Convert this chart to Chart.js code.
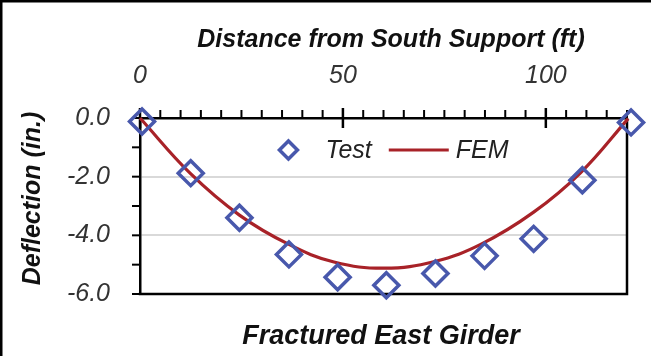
<!DOCTYPE html>
<html><head><meta charset="utf-8">
<script src="https://cdn.jsdelivr.net/npm/chart.js@4.4.1/dist/chart.umd.min.js"></script>
<style>
html,body{margin:0;padding:0;background:#fff;overflow:hidden}
#wrap{position:relative;width:651px;height:356px}
</style></head><body>
<div id="wrap"><canvas id="c" width="651" height="356"></canvas></div>
<script>
// ---- data ----
const distanceFt     = [0.5, 12.5, 24.5, 36.7, 48.7, 60.7, 72.8, 84.9, 97.0, 109.0, 121.0];
const testDeflection = [-0.12, -1.88, -3.40, -4.65, -5.43, -5.70, -5.30, -4.70, -4.12, -2.12, -0.15];
const femDistanceFt  = [0, 12.4, 24.5, 36.7, 47.8, 60.2, 72.6, 84.2, 97.0, 108.6, 120.3];
const femDeflection  = [0, -1.89, -3.31, -4.31, -4.91, -5.12, -4.89, -4.29, -3.21, -1.86, -0.02];
const seriesNames    = ['Test', 'FEM'];
const xTickValues    = [0, 50, 100];
const xMinorStep     = 5;
const yTickValues    = [0, -2, -4, -6];
const yMinorStep     = 1;
const chartTitle     = 'Fractured East Girder';
const xTitle         = 'Distance from South Support (ft)';
const yTitle         = 'Deflection (in.)';

// ---- styles ----
const FONT = "'Liberation Sans', Arial, sans-serif";
const BLUE = '#4858AC';
const RED  = '#A82228';
const TICK_COLOR = '#333333';

const framePlugin = {
  id: 'frame',
  beforeDatasetsDraw(chart) {
    const {ctx, chartArea: a, scales: {x, y}} = chart;
    ctx.save();
    ctx.strokeStyle = '#000';
    ctx.lineCap = 'butt';
    // outer frame (top + left)
    ctx.lineWidth = 2.5;
    ctx.beginPath();
    ctx.moveTo(0, 1.25); ctx.lineTo(chart.width, 1.25);
    ctx.moveTo(1.25, 0); ctx.lineTo(1.25, chart.height);
    ctx.stroke();
    // plot right + bottom border
    ctx.beginPath();
    ctx.moveTo(a.right, a.top); ctx.lineTo(a.right, a.bottom);
    ctx.moveTo(a.left - 1.25, a.bottom); ctx.lineTo(a.right + 1.25, a.bottom);
    ctx.stroke();
    // x ticks (top axis)
    for (let v = x.min; v <= x.max + 1e-9; v += xMinorStep) {
      const px = x.getPixelForValue(v);
      const major = xTickValues.includes(v);
      ctx.lineWidth = major ? 2.5 : 2;
      ctx.beginPath();
      ctx.moveTo(px, a.top - (major ? 10 : 8));
      ctx.lineTo(px, major ? a.top + 10 : a.top);
      ctx.stroke();
    }
    // y ticks (left axis)
    ctx.lineWidth = 2;
    for (let v = y.max; v >= y.min - 1e-9; v -= yMinorStep) {
      const py = y.getPixelForValue(v);
      ctx.beginPath();
      ctx.moveTo(a.left - 8, py); ctx.lineTo(a.left, py);
      ctx.stroke();
    }
    ctx.restore();
  }
};

const legendPlugin = {
  id: 'insideLegend',
  afterDatasetsDraw(chart) {
    const {ctx, chartArea: a} = chart;
    const keyW = 60, keyGap = 7, itemGap = 17, cy = a.top + 32, r = 9;
    ctx.save();
    ctx.font = 'italic 25px ' + FONT;
    const ds = chart.data.datasets;
    const widths = ds.map(d => keyW + keyGap + ctx.measureText(d.label).width);
    const total = widths.reduce((s, w) => s + w, 0) + itemGap * (ds.length - 1);
    let x0 = (a.left + a.right) / 2 - total / 2;
    ds.forEach((d, i) => {
      const kc = x0 + keyW / 2;
      if (d.showLine) {
        ctx.strokeStyle = d.borderColor; ctx.lineWidth = d.borderWidth;
        ctx.beginPath(); ctx.moveTo(x0, cy); ctx.lineTo(x0 + keyW, cy); ctx.stroke();
      } else {
        ctx.strokeStyle = d.pointBorderColor; ctx.lineWidth = d.pointBorderWidth;
        ctx.beginPath();
        ctx.moveTo(kc - r, cy); ctx.lineTo(kc, cy - r); ctx.lineTo(kc + r, cy); ctx.lineTo(kc, cy + r); ctx.closePath();
        ctx.stroke();
      }
      ctx.fillStyle = '#222';
      ctx.textBaseline = 'middle'; ctx.textAlign = 'left';
      ctx.fillText(d.label, x0 + keyW + keyGap, cy + 1);
      x0 += widths[i] + itemGap;
    });
    ctx.restore();
  }
};

const titlesPlugin = {
  id: 'titles',
  afterDraw(chart) {
    const {ctx} = chart;
    ctx.save();
    ctx.fillStyle = '#111';
    ctx.textAlign = 'center';
    ctx.textBaseline = 'middle';
    ctx.font = 'italic bold 25px ' + FONT;
    ctx.fillText(xTitle, 391, 40);
    ctx.font = 'italic bold 27px ' + FONT;
    ctx.fillText(chartTitle, 381, 337);
    ctx.font = 'italic bold 25px ' + FONT;
    ctx.translate(33, 198.5);
    ctx.rotate(-Math.PI / 2);
    ctx.fillText(yTitle, 0, 0);
    ctx.restore();
  }
};

new Chart(document.getElementById('c'), {
  type: 'scatter',
  data: {
    datasets: [
      {
        label: seriesNames[0],
        data: distanceFt.map((x, i) => ({x, y: testDeflection[i]})),
        showLine: false,
        pointStyle: 'rectRot',
        pointRadius: 12.5,
        pointHoverRadius: 12.5,
        pointBorderWidth: 3.5,
        pointBorderColor: BLUE,
        pointBackgroundColor: 'rgba(255,255,255,0)',
        clip: false
      },
      {
        label: seriesNames[1],
        data: femDistanceFt.map((x, i) => ({x, y: femDeflection[i]})),
        showLine: true,
        borderColor: RED,
        borderWidth: 3.2,
        pointRadius: 0,
        pointHoverRadius: 0,
        tension: 0.4,
        clip: false
      }
    ]
  },
  options: {
    responsive: false,
    devicePixelRatio: 1,
    animation: false,
    layout: {padding: {top: 0, left: 0, right: 24, bottom: 62}},
    plugins: {legend: {display: false}, tooltip: {enabled: false}, title: {display: false}},
    scales: {
      x: {
        type: 'linear', position: 'top', min: 0, max: 120,
        afterBuildTicks: s => { s.ticks = xTickValues.map(v => ({value: v})); },
        afterFit: s => { s.height = 118; },
        ticks: {font: {family: FONT, size: 25, style: 'italic'}, color: TICK_COLOR, padding: 27, maxRotation: 0, autoSkip: false},
        grid: {display: false, drawTicks: false},
        border: {display: true, color: '#000', width: 2.5}
      },
      y: {
        type: 'linear', position: 'left', min: -6, max: 0,
        afterBuildTicks: s => { s.ticks = yTickValues.map(v => ({value: v})); },
        afterFit: s => { s.width = 140; },
        ticks: {font: {family: FONT, size: 25, style: 'italic'}, color: TICK_COLOR, padding: 30,
                callback: v => Number(v).toFixed(1)},
        grid: {color: '#D9D9D9', lineWidth: 2, drawTicks: false},
        border: {display: true, color: '#000', width: 2.5}
      }
    }
  },
  plugins: [framePlugin, legendPlugin, titlesPlugin]
});
</script>
</body></html>
